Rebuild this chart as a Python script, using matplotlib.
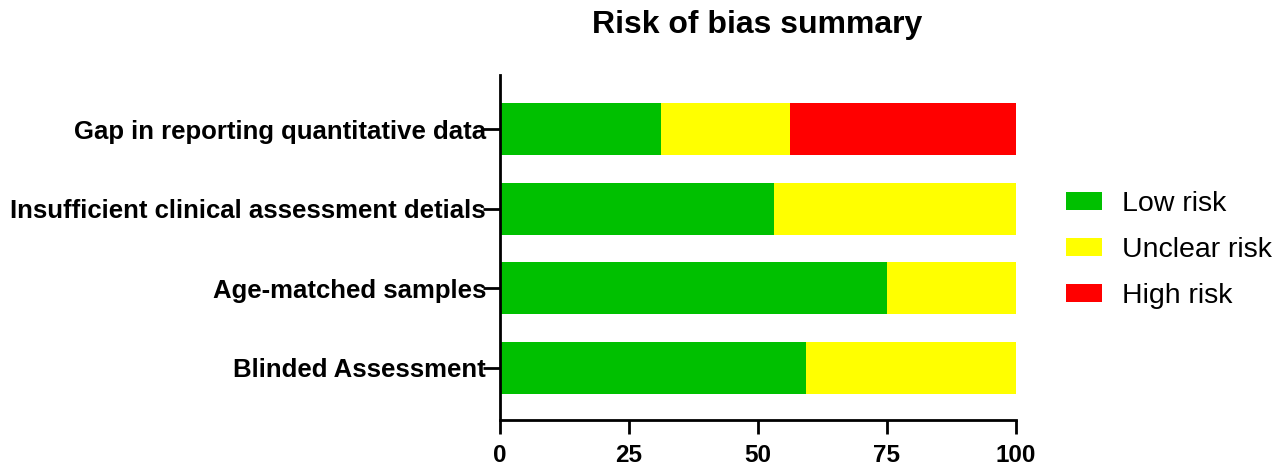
import numpy as np
import matplotlib.pyplot as plt
from matplotlib.patches import Patch

plt.rcParams['font.family'] = ['Liberation Sans', 'DejaVu Sans']

domains = ["Blinded Assessment", "Age-matched samples",
           "Insufficient clinical assessment detials", "Gap in reporting quantitative data"]
low = [59.375, 75.0, 53.125, 31.25]
unclear = [40.625, 25.0, 46.875, 25.0]
high = [0.0, 0.0, 0.0, 43.75]
labels = ["Low risk", "Unclear risk", "High risk"]
colors = ["#00C000", "#FFFF00", "#FF0000"]

fig = plt.figure(figsize=(12.75, 4.7), dpi=100)
ax = fig.add_axes([500/1275, 50/470, 516/1275, 345/470])

y = np.arange(len(domains))
low = np.array(low)
unclear = np.array(unclear)
high = np.array(high)
ax.barh(y, low, height=0.655, color=colors[0])
ax.barh(y, unclear, left=low, height=0.655, color=colors[1])
ax.barh(y, high, left=low + unclear, height=0.655, color=colors[2])

ax.set_xlim(0, 100)
ax.set_ylim(-0.66, 3.68)
ax.set_xticks([0, 25, 50, 75, 100])
ax.set_yticks(y)
ax.set_yticklabels(domains)
for s in ["top", "right"]:
    ax.spines[s].set_visible(False)
for s in ["left", "bottom"]:
    ax.spines[s].set_linewidth(2)
ax.tick_params(axis="x", length=10, width=2, labelsize=17.5, pad=7)
ax.tick_params(axis="y", length=12, width=2, labelsize=18.5, pad=-2)
for t in ax.get_xticklabels() + ax.get_yticklabels():
    t.set_fontweight("bold")

fig.text(757/1275, 1 - 25/470, "Risk of bias summary", ha="center", va="center",
         fontsize=23, fontweight="bold")

handles = [Patch(facecolor=c, edgecolor="none") for c in colors]
fig.legend(handles, labels, loc="center left", bbox_to_anchor=(1066/1275, 1 - 250/470),
           frameon=False, fontsize=20.5, handlelength=1.26, handleheight=0.63,
           handletextpad=0.7, labelspacing=0.7, borderpad=0, borderaxespad=0)

fig.savefig("out.png", dpi=100)
